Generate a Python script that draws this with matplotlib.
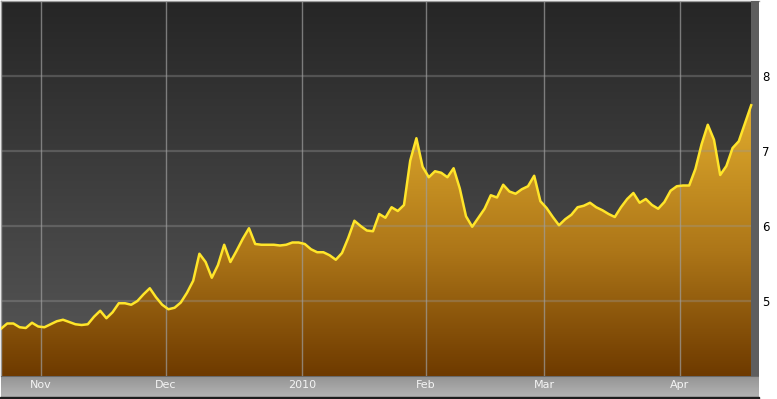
import matplotlib
matplotlib.use('Agg')
import matplotlib.pyplot as plt
import numpy as np
from matplotlib.colors import LinearSegmentedColormap

# daily closing values, one per trading day
prices = [
    4.63, 4.70, 4.70, 4.65, 4.64, 4.71, 4.66, 4.65, 4.69, 4.73,
    4.75, 4.72, 4.69, 4.68, 4.69, 4.79, 4.87, 4.77, 4.85, 4.97,
    4.97, 4.95, 5.00, 5.09, 5.17, 5.05, 4.95, 4.89, 4.91, 4.98,
    5.11, 5.27, 5.63, 5.52, 5.31, 5.48, 5.75, 5.52, 5.67, 5.83,
    5.97, 5.76, 5.75, 5.75, 5.75, 5.74, 5.75, 5.78, 5.78, 5.76,
    5.69, 5.65, 5.65, 5.61, 5.55, 5.64, 5.84, 6.07, 6.00, 5.94,
    5.93, 6.16, 6.11, 6.25, 6.20, 6.28, 6.87, 7.17, 6.79, 6.65,
    6.73, 6.71, 6.65, 6.77, 6.50, 6.13, 5.99, 6.11, 6.23, 6.41,
    6.38, 6.55, 6.46, 6.43, 6.49, 6.53, 6.67, 6.33, 6.24, 6.12,
    6.01, 6.09, 6.15, 6.25, 6.27, 6.31, 6.25, 6.21, 6.16, 6.12,
    6.25, 6.36, 6.44, 6.31, 6.36, 6.28, 6.23, 6.32, 6.47, 6.53,
    6.54, 6.54, 6.76, 7.09, 7.35, 7.15, 6.68, 6.80, 7.04, 7.13,
    7.37, 7.61,
]
month_labels = ['Nov', 'Dec', '2010', 'Feb', 'Mar', 'Apr']
month_pos = [6.45, 26.6, 48.5, 68.5, 87.6, 109.5]  # in trading-day index units
y_ticks = [5, 6, 7, 8]

W, H = 777, 399
fig = plt.figure(figsize=(W / 100, H / 100), dpi=100, facecolor='white')

x = np.arange(len(prices))
xmin, xmax = 0, len(prices) - 1 + 1.26
ymin, ymax = 4, 9

ax = fig.add_axes([1 / W, 23 / H, 758 / W, 375 / H])
ax.set_xlim(xmin, xmax)
ax.set_ylim(ymin, ymax)

# background gradient
bg_cmap = LinearSegmentedColormap.from_list('bg', ['#585858', '#262626'])
grad = np.linspace(0, 1, 256).reshape(-1, 1)
ax.imshow(grad, cmap=bg_cmap, extent=[xmin, xmax, ymin, ymax], origin='lower',
          aspect='auto', zorder=0)

# gold fill under the line, gradient clipped to the area
fill = ax.fill_between(x, prices, ymin, facecolor='none', edgecolor='none', zorder=1)
fill_cmap = LinearSegmentedColormap.from_list('gold', ['#6e3a00', '#ad7618', '#d9a42a', '#f2c53a'])
img = ax.imshow(grad, cmap=fill_cmap, extent=[xmin, xmax, ymin, ymax], origin='lower',
                aspect='auto', zorder=1)
img.set_clip_path(fill.get_paths()[0], transform=ax.transData)

# grid
for yv in y_ticks:
    ax.axhline(yv, color=(0.6, 0.6, 0.6, 0.35), lw=1.6, zorder=2)
for xv in month_pos:
    ax.axvline(xv, color=(0.62, 0.62, 0.62, 0.7), lw=1.0, zorder=2)

ax.plot(x, prices, color='#ffe52a', lw=1.8, solid_joinstyle='round', zorder=4)

# empty strip after the last point
ax.axvspan(len(prices) - 1, xmax, color='#5e5e5e', zorder=3, lw=0)

ax.set_xticks([])
ax.yaxis.tick_right()
ax.set_yticks(y_ticks)
ax.set_yticklabels([str(v) for v in y_ticks], fontsize=8.5, color='black')
ax.tick_params(axis='y', length=0, pad=2)
for s in ['left', 'top']:
    ax.spines[s].set_color('#9a9a9a')
    ax.spines[s].set_linewidth(1)
ax.spines['right'].set_visible(False)
ax.spines['bottom'].set_visible(False)

# date strip below the plot
sx = fig.add_axes([1 / W, 2 / H, 758 / W, 21 / H])
sx.set_xlim(xmin, xmax)
sx.set_ylim(0, 1)
strip_cmap = LinearSegmentedColormap.from_list('strip', ['#b4b4b4', '#949494'])
sx.imshow(grad, cmap=strip_cmap, extent=[xmin, xmax, 0, 1], origin='lower', aspect='auto')
sx.axhline(1, color='#6a6a6a', lw=1.5)
for lab, pos in zip(month_labels, month_pos):
    sx.text(pos, 0.55, lab, ha='center', va='center', fontsize=8, color='#f4f4f4')
sx.set_xticks([])
sx.set_yticks([])
for s in sx.spines.values():
    s.set_visible(False)

# dark bar at the very bottom
fig.patches.append(plt.Rectangle((0, 0), 759 / W, 2 / H, transform=fig.transFigure,
                                 color='#1e1e1e', zorder=5))

fig.savefig('out.png', dpi=100)
